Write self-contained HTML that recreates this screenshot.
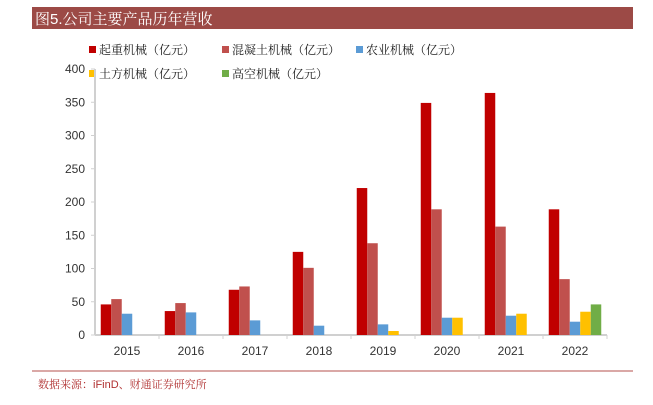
<!DOCTYPE html>
<html><head><meta charset="utf-8"><style>
body{margin:0;width:653px;height:400px;background:#fff;overflow:hidden;font-family:"Liberation Sans","Noto Serif CJK SC",sans-serif}
svg text{font-family:"Liberation Sans","Noto Serif CJK SC",serif}
</style></head><body>
<svg width="653" height="400">
<rect x="32" y="7" width="601" height="22" fill="#9c4a46"/>
<text x="35" y="24" font-size="15" fill="#fff">图5.公司主要产品历年营收</text>
<g id="legend"></g>
<g id="axes"></g>
<g id="bars"></g>
<line x1="32" y1="371" x2="633" y2="371" stroke="#b5524d" stroke-width="1"/>
<text x="38" y="388" font-size="11" fill="#b03030">数据来源：iFinD、财通证券研究所</text>
</svg>
<script>
const categories=["2015","2016","2017","2018","2019","2020","2021","2022"];
const seriesNames=["起重机械（亿元）","混凝土机械（亿元）","农业机械（亿元）","土方机械（亿元）","高空机械（亿元）"];
const crane=[46,36,68,125,221,349,364,189];
const concrete=[54,48,73,101,138,189,163,84];
const agri=[32,34,22,14,16,26,29,20];
const earth=[0,0,0,0,6,26,32,35];
const aerial=[0,0,0,0,0,0,0,46];
const yTicks=[0,50,100,150,200,250,300,350,400];
const colors=["#c00000","#c0504d","#5b9bd5","#ffc000","#70ad47"];
const series=[crane,concrete,agri,earth,aerial];
const NS="http://www.w3.org/2000/svg";
const x0=95,x1=607,y0=335,yTop=69,yMax=400;
const y=v=>y0-(v/yMax)*(y0-yTop);
const bw=(x1-x0)/categories.length;
const xc=i=>x0+bw*(i+0.5);
function mk(tag,attrs,parent){const e=document.createElementNS(NS,tag);for(const k in attrs)e.setAttribute(k,attrs[k]);parent.appendChild(e);return e;}
const ax=document.getElementById('axes');
let l=mk('line',{x1:x0,y1:yTop,x2:x0,y2:y0,stroke:'#d0d0d0','stroke-width':2},ax);


l=mk('line',{x1:x0,y1:y0,x2:x1,y2:y0,stroke:'#d0d0d0','stroke-width':2},ax);


yTicks.forEach(t=>{const tk=mk('line',{x1:x0-4,x2:x0,y1:y(t),y2:y(t),stroke:'#d0d0d0'},ax);


const tx=mk('text',{x:x0-10,y:y(t)+4,'font-size':12,'text-anchor':'end',fill:'#333'},ax);tx.textContent=t;

});
categories.forEach((c,i)=>{const tk=mk('line',{x1:x0+bw*(i+1),x2:x0+bw*(i+1),y1:y0,y2:y0+4,stroke:'#d0d0d0'},ax);


const tx=mk('text',{x:xc(i),y:y0+20,'font-size':12,'text-anchor':'middle',fill:'#333'},ax);tx.textContent=c;

});
const bg=document.getElementById('bars');const sw=10.5;
series.forEach((s,si)=>s.forEach((v,i)=>{if(!v)return;
const r=mk('rect',{x:xc(i)-2.5*sw+si*sw,y:y(v),width:sw,height:y0-y(v),fill:colors[si]},bg);

}));
const lg=document.getElementById('legend');
const lpos=[[89,50],[222,50],[356,50],[89,74],[222,74]];
seriesNames.forEach((n,i)=>{const g=mk('g',{},lg);


mk('rect',{x:lpos[i][0],y:lpos[i][1]-4,width:7,height:7,fill:colors[i]},g);
const t=mk('text',{x:lpos[i][0]+10,y:lpos[i][1]+4,'font-size':12,fill:'#222'},g);t.textContent=n;});
</script>
</body></html>
